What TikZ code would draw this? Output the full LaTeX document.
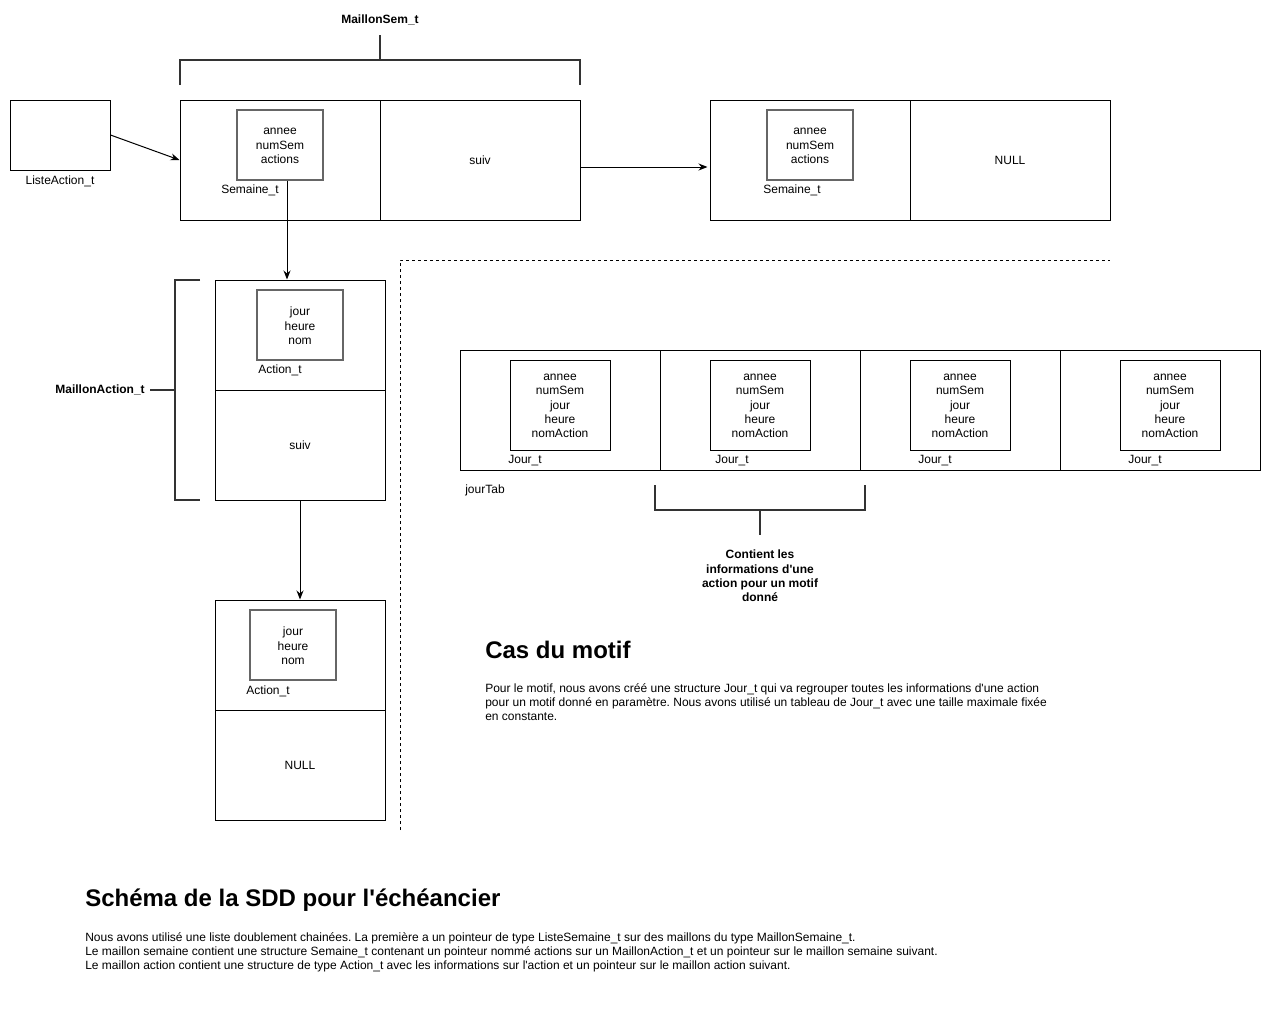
\documentclass[tikz,border=0pt]{standalone}
\usepackage{fontspec}
\setmainfont{Liberation Sans}
\usetikzlibrary{arrows.meta}
\frenchspacing
\newlength\pxl \setlength\pxl{0.75pt}
\newcommand\fsm{\fontsize{9pt}{10.8pt}\selectfont}
\newcommand\fpar{\fontsize{9pt}{10.5pt}\selectfont}
\newcommand\fhead{\fontsize{18pt}{21pt}\selectfont\bfseries}
\newcommand\q{\textquotesingle}
\begin{document}
\begin{tikzpicture}[x=0.75pt,y=-0.75pt,
  cell/.style={draw=black, line width=1\pxl, inner sep=0pt, font=\fsm, align=center},
  wide/.style={minimum width=200\pxl, minimum height=120\pxl},
  tall/.style={minimum width=170\pxl, minimum height=110\pxl},
  inbox/.style={draw=black!60, line width=1.5\pxl, inner sep=0pt, font=\fsm, align=center, minimum width=86\pxl, minimum height=70\pxl},
  jbox/.style={draw=black, line width=1\pxl, inner sep=0pt, font=\fsm, align=center, minimum width=100\pxl, minimum height=90\pxl},
  lbl/.style={inner sep=0pt, font=\fsm},
  blbl/.style={inner sep=0pt, font=\fsm\bfseries, align=center},
  brk/.style={draw=black!80, line width=2\pxl},
  arr/.style={draw=black, line width=1\pxl, -{Stealth[length=6.75pt,width=5.25pt]}},
  dashline/.style={draw=black, line width=1\pxl, dash pattern=on 2.25pt off 2.25pt},
  para/.style={inner sep=0pt, font=\fpar, align=left, anchor=west},
  head/.style={inner sep=0pt, font=\fhead, anchor=west}
]
\useasboundingbox (0,0) rectangle (1271,1011);

% ListeAction
\node[cell, minimum width=100\pxl, minimum height=70\pxl] (liste) at (60,135) {};
\node[lbl] (listelbl) at (60,181) {ListeAction\_t};

% MaillonSem 1
\node[cell, wide] (s1a) at (280,160) {};
\node[cell, wide] (s1b) at (480,160) {suiv};
\node[inbox] (s1in) at (280,145) {};
\node[lbl, align=center] (s1txt) at (280,146) {annee\\numSem\\actions};
\node[lbl] (s1lbl) at (250,190) {Semaine\_t};

% bracket MaillonSem_t
\draw[brk] (180,85) -- (180,60) -- (580,60) -- (580,85);
\draw[brk] (380,60) -- (380,35);
\node[blbl] (msemlbl) at (380,20) {MaillonSem\_t};

% MaillonSem 2
\node[cell, wide] (s2a) at (810,160) {};
\node[cell, wide] (s2b) at (1010,160) {NULL};
\node[inbox] (s2in) at (810,145) {};
\node[lbl, align=center] (s2txt) at (810,146) {annee\\numSem\\actions};
\node[lbl] (s2lbl) at (792,190) {Semaine\_t};

% MaillonAction 1
\node[cell, tall] (a1a) at (300,335) {};
\node[cell, tall] (a1b) at (300,445) {suiv};
\node[inbox] (a1in) at (300,325) {};
\node[lbl, align=center] (a1txt) at (300,326) {jour\\heure\\nom};
\node[lbl] (a1lbl) at (280,370) {Action\_t};

% arrows
\draw[arr] (liste.east) -- (s1a.west);
\draw[arr] ([yshift=-5.25pt]s1b.east) -- ([yshift=-5.25pt,xshift=-1.5pt]s2a.west);
\draw[arr] ([xshift=5.25pt]s1in.south) -- ([xshift=-9.75pt]a1a.north);

% bracket MaillonAction_t
\draw[brk] (200,280) -- (175,280) -- (175,500) -- (200,500);
\draw[brk] (175,390) -- (150,390);
\node[blbl, anchor=east] (mactlbl) at (145,390) {MaillonAction\_t};

% MaillonAction 2
\node[cell, tall] (a2a) at (300,655) {};
\node[cell, tall] (a2b) at (300,765) {NULL};
\node[inbox] (a2in) at (293,645) {};
\node[lbl, align=center] (a2txt) at (293,646) {jour\\heure\\nom};
\node[lbl] (a2lbl) at (268,691) {Action\_t};

\draw[arr] (a1b.south) -- (a2a.north);

% dashed separator
\draw[dashline] (400,830) -- (400,260) -- (1110,260);

% jourTab
\node[cell, wide] (j1) at (560,410) {};
\node[cell, wide] (j2) at (760,410) {};
\node[cell, wide] (j3) at (960,410) {};
\node[cell, wide] (j4) at (1160,410) {};
\node[jbox] (j1in) at (560,405) {};
\node[jbox] (j2in) at (760,405) {};
\node[jbox] (j3in) at (960,405) {};
\node[jbox] (j4in) at (1170,405) {};
\node[lbl, align=center] (j1txt) at (560,406) {annee\\numSem\\jour\\heure\\nomAction};
\node[lbl, align=center] (j2txt) at (760,406) {annee\\numSem\\jour\\heure\\nomAction};
\node[lbl, align=center] (j3txt) at (960,406) {annee\\numSem\\jour\\heure\\nomAction};
\node[lbl, align=center] (j4txt) at (1170,406) {annee\\numSem\\jour\\heure\\nomAction};
\node[lbl] (j1lbl) at (525,461) {Jour\_t};
\node[lbl] (j2lbl) at (732,461) {Jour\_t};
\node[lbl] (j3lbl) at (935,461) {Jour\_t};
\node[lbl] (j4lbl) at (1145,461) {Jour\_t};
\node[lbl] (jtablbl) at (485,490) {jourTab};

% bracket jour
\draw[brk] (655,485) -- (655,510) -- (865,510) -- (865,485);
\draw[brk] (760,510) -- (760,535);
\node[blbl] (jinfo) at (760,576) {Contient les\\informations d\q une\\action pour un motif\\donné};

% Cas du motif
\node[head] (h1) at (485,650) {Cas du motif};
\node[para] (p1) at (485,702) {Pour le motif, nous avons créé une structure Jour\_t qui va regrouper toutes les informations d\q une action\\pour un motif donné en paramètre. Nous avons utilisé un tableau de Jour\_t avec une taille maximale fixée\\en constante.};

% Schema
\node[head] (h2) at (85,900) {Schéma de la SDD pour l\q échéancier};
\node[para] (p2) at (85,952) {Nous avons utilisé une liste doublement chainées. La première a un pointeur de type ListeSemaine\_t sur des maillons du type MaillonSemaine\_t.\\Le maillon semaine contient une structure Semaine\_t contenant un pointeur nommé actions sur un MaillonAction\_t et un pointeur sur le maillon semaine suivant.\\Le maillon action contient une structure de type Action\_t avec les informations sur l\q action et un pointeur sur le maillon action suivant.};
\end{tikzpicture}
\end{document}
